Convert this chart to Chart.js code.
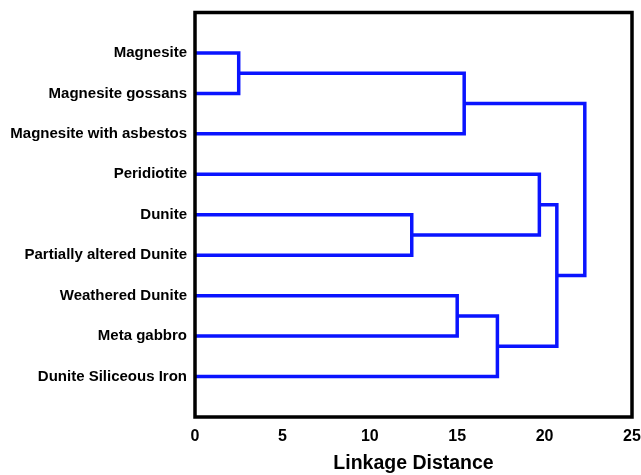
<!DOCTYPE html>
<html>
<head>
<meta charset="utf-8">
<script src="https://cdn.jsdelivr.net/npm/chart.js@4"></script>
<style>
  html, body { margin: 0; padding: 0; background: #fff; }
  #wrap { width: 641px; height: 475px; }
</style>
</head>
<body>
<div id="wrap"><canvas id="dendro"></canvas></div>
<script>
// Leaves, top to bottom
const leafLabels = [
  "Magnesite",
  "Magnesite gossans",
  "Magnesite with asbestos",
  "Peridiotite",
  "Dunite",
  "Partially altered Dunite",
  "Weathered Dunite",
  "Meta gabbro",
  "Dunite Siliceous Iron"
];

// Linkage steps: node ids 0-8 are leaves, each merge creates node 9, 10, ...
const mergeLeft  = [0, 9, 4, 3, 6, 13, 12, 10];
const mergeRight = [1, 2, 5, 11, 7, 8, 14, 15];
const mergeDist  = [2.5, 15.4, 12.4, 19.7, 15.0, 17.3, 20.7, 22.3];

const xTicks = [0, 5, 10, 15, 20, 25];

// position (row) and height (distance) for every node
const nodePos = leafLabels.map((_, i) => i + 1);
const nodeHeight = leafLabels.map(() => 0);
const links = [];
mergeDist.forEach((d, k) => {
  const a = mergeLeft[k], b = mergeRight[k];
  nodePos.push((nodePos[a] + nodePos[b]) / 2);
  nodeHeight.push(d);
  links.push([
    { x: nodeHeight[a], y: nodePos[a] },
    { x: d, y: nodePos[a] },
    { x: d, y: nodePos[b] },
    { x: nodeHeight[b], y: nodePos[b] }
  ]);
});

const datasets = links.map(pts => ({
  data: pts,
  showLine: true,
  borderColor: "#0a14ff",
  borderWidth: 3.5,
  pointRadius: 0,
  tension: 0,
  borderJoinStyle: "miter",
  borderCapStyle: "butt"
}));

// black frame around the plot area
const frame = {
  id: "frame",
  afterDraw(chart) {
    const { ctx, chartArea: a } = chart;
    ctx.save();
    ctx.strokeStyle = "#000";
    ctx.lineWidth = 3.5;
    ctx.strokeRect(a.left, a.top, a.right - a.left, a.bottom - a.top);
    ctx.restore();
  }
};

const font = "'Liberation Sans', Arial, sans-serif";

new Chart(document.getElementById("dendro"), {
  type: "scatter",
  data: { datasets },
  plugins: [frame],
  options: {
    responsive: true,
    maintainAspectRatio: false,
    animation: false,
    layout: { padding: { top: 12.5, right: 9, left: 0, bottom: 0 } },
    plugins: { legend: { display: false }, tooltip: { enabled: false } },
    scales: {
      x: {
        type: "linear",
        min: 0,
        max: 25,
        afterBuildTicks: s => { s.ticks = xTicks.map(v => ({ value: v })); },
        grid: { display: false, drawTicks: false },
        border: { display: false },
        ticks: {
          color: "#000",
          padding: 10,
          font: { family: font, size: 16, weight: "bold" }
        },
        title: {
          display: true,
          text: "Linkage Distance",
          color: "#000",
          padding: { top: 8, bottom: 0 },
          font: { family: font, size: 19.5, weight: "bold" }
        },
        afterFit: s => {
          s.height = 58;
          s.paddingLeft = 0;
          s.paddingRight = 0;
        }
      },
      y: {
        type: "linear",
        reverse: true,
        min: 0,
        max: leafLabels.length + 1,
        afterBuildTicks: s => { s.ticks = leafLabels.map((_, i) => ({ value: i + 1 })); },
        grid: { display: false, drawTicks: false },
        border: { display: false },
        ticks: {
          autoSkip: false,
          color: "#000",
          padding: 8,
          font: { family: font, size: 15, weight: "bold" },
          callback: v => leafLabels[v - 1] || ""
        },
        afterFit: s => {
          s.width = 195;
          s.paddingTop = 0;
          s.paddingBottom = 0;
        }
      }
    }
  }
});
</script>
</body>
</html>
